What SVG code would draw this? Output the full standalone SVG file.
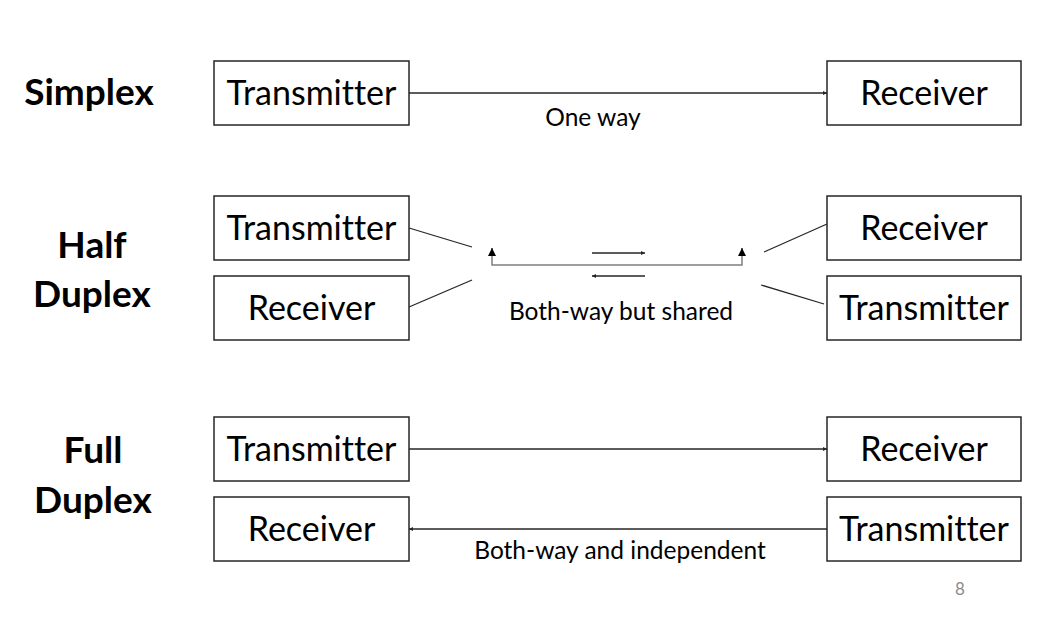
<svg xmlns="http://www.w3.org/2000/svg" width="1044" height="620" viewBox="0 0 1044 620">
<style>
text{font-variant-ligatures:none}
.box{fill:#fff;stroke:#262626;stroke-width:1.5}
.bt{font-family:Lato,"Liberation Sans",sans-serif;font-size:34px;fill:#000;text-anchor:middle}
.hd{font-family:Lato,"Liberation Sans",sans-serif;font-size:37px;font-weight:bold;fill:#000;text-anchor:middle}
.lb{font-family:Lato,"Liberation Sans",sans-serif;font-size:24.5px;fill:#000;text-anchor:middle}
.ln{stroke:#262626;stroke-width:1.3;fill:none}
.sh{stroke:#7f7f7f;stroke-width:1.5;fill:none}
</style>
<defs>
<marker id="ah" viewBox="0 0 6 6" refX="6" refY="3" markerWidth="5" markerHeight="4" markerUnits="userSpaceOnUse" orient="auto"><path d="M0,0L6,3L0,6z" fill="#262626"/></marker>
<marker id="ahb" viewBox="0 0 6 6" refX="6" refY="3" markerWidth="8" markerHeight="8" markerUnits="userSpaceOnUse" orient="auto"><path d="M0,0L6,3L0,6z" fill="#000"/></marker>
</defs>
<rect width="1044" height="620" fill="#fff"/>
<g id="headings">
<text class="hd" x="89" y="105">Simplex</text>
<text class="hd" x="92" y="258">Half</text>
<text class="hd" x="92" y="307">Duplex</text>
<text class="hd" x="93" y="463">Full</text>
<text class="hd" x="93" y="513">Duplex</text>
</g>
<g id="connectors">
<line class="ln" x1="409" y1="93" x2="827" y2="93" marker-end="url(#ah)"/>
<line class="ln" x1="409" y1="228" x2="472" y2="247"/>
<line class="ln" x1="409" y1="307" x2="472" y2="280"/>
<line class="ln" x1="764" y1="252" x2="827" y2="224"/>
<line class="ln" x1="761" y1="285" x2="824" y2="304"/>
<polyline class="sh" points="492,250 492,265 742,265 742,250"/>
<line class="ln" x1="492" y1="256" x2="492" y2="248" marker-end="url(#ahb)"/>
<line class="ln" x1="742" y1="256" x2="742" y2="248" marker-end="url(#ahb)"/>
<line class="ln" x1="592" y1="253" x2="645" y2="253" marker-end="url(#ah)"/>
<line class="ln" x1="645" y1="276" x2="592" y2="276" marker-end="url(#ah)"/>
<line class="ln" x1="409" y1="449" x2="827" y2="449" marker-end="url(#ah)"/>
<line class="ln" x1="827" y1="529" x2="409" y2="529" marker-end="url(#ah)"/>
</g>
<g id="labels">
<text class="lb" x="593" y="126">One way</text>
<text class="lb" x="621" y="320">Both-way but shared</text>
<text class="lb" x="620" y="559">Both-way and independent</text>
<text x="960" y="595" font-family="Lato,'Liberation Sans',sans-serif" font-size="17" fill="#8c8c8c" text-anchor="middle">8</text>
</g>
<g id="simplex-tx"><rect class="box" x="214" y="61" width="195" height="64"/><text class="bt" x="311.5" y="105">Transmitter</text></g>
<g id="simplex-rx"><rect class="box" x="827" y="61" width="194" height="64"/><text class="bt" x="924" y="105">Receiver</text></g>
<g id="half-tx"><rect class="box" x="214" y="196" width="195" height="64"/><text class="bt" x="311.5" y="240">Transmitter</text></g>
<g id="half-rx"><rect class="box" x="214" y="276" width="195" height="64"/><text class="bt" x="311.5" y="320">Receiver</text></g>
<g id="half-rx2"><rect class="box" x="827" y="196" width="194" height="64"/><text class="bt" x="924" y="240">Receiver</text></g>
<g id="half-tx2"><rect class="box" x="827" y="276" width="194" height="64"/><text class="bt" x="924" y="320">Transmitter</text></g>
<g id="full-tx"><rect class="box" x="214" y="417" width="195" height="64"/><text class="bt" x="311.5" y="461">Transmitter</text></g>
<g id="full-rx"><rect class="box" x="214" y="497" width="195" height="64"/><text class="bt" x="311.5" y="541">Receiver</text></g>
<g id="full-rx2"><rect class="box" x="827" y="417" width="194" height="64"/><text class="bt" x="924" y="461">Receiver</text></g>
<g id="full-tx2"><rect class="box" x="827" y="497" width="194" height="64"/><text class="bt" x="924" y="541">Transmitter</text></g>
</svg>
